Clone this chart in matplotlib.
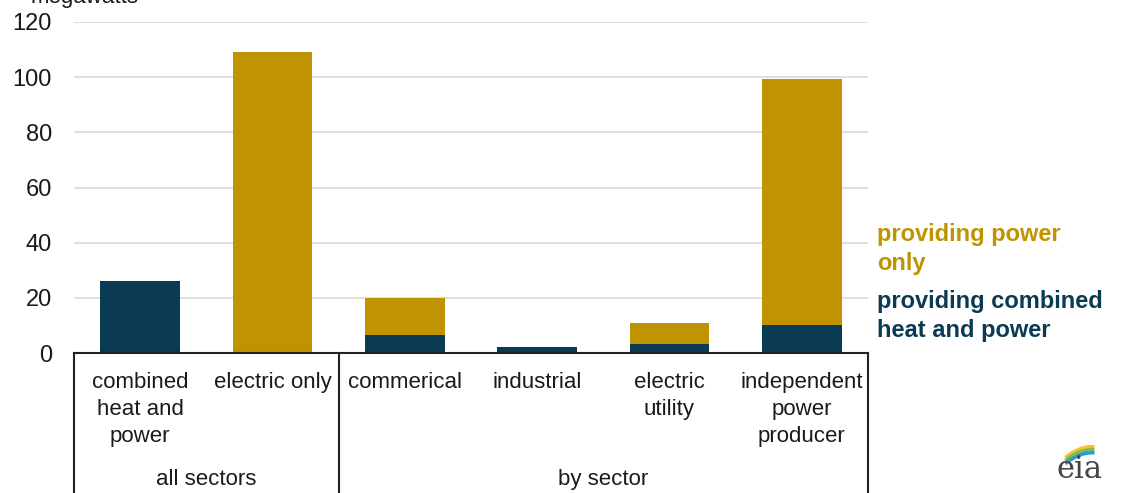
import numpy as np
import matplotlib
matplotlib.use('Agg')
import matplotlib.pyplot as plt

# data (megawatts)
categories = ['combined\nheat and\npower', 'electric only', 'commerical',
              'industrial', 'electric\nutility', 'independent\npower\nproducer']
chp_values = [26, 0, 6.5, 2, 3.3, 10.2]
power_only_values = [0, 109, 13.5, 0, 7.7, 89.1]
groups = ['all sectors', 'by sector']
group_spans = [(0, 1), (2, 5)]
yticks = [0, 20, 40, 60, 80, 100, 120]

NAVY = '#0B3A55'
GOLD = '#C09300'

plt.rcParams['font.family'] = ['Liberation Sans', 'DejaVu Sans']

fig = plt.figure(figsize=(11.29, 4.93), dpi=100)
ax = fig.add_axes([74 / 1129, 140 / 493, 794 / 1129, 331 / 493])

x = np.arange(len(categories))
ax.bar(x, chp_values, width=0.6, color=NAVY, zorder=3)
ax.bar(x, power_only_values, width=0.6, bottom=chp_values, color=GOLD, zorder=3)

ax.set_xlim(-0.5, len(categories) - 0.5)
ax.set_ylim(0, 120)
ax.set_yticks(yticks)
ax.set_yticklabels([str(v) for v in yticks], fontsize=17, color='#1a1a1a')
ax.tick_params(axis='y', length=0, pad=16)
ax.set_xticks([])
for v in yticks[1:]:
    ax.axhline(v, color='#D9D9D9', linewidth=1.2, zorder=1)
for s in ['top', 'right', 'left']:
    ax.spines[s].set_visible(False)
ax.spines['bottom'].set_color('#222222')
ax.spines['bottom'].set_linewidth(1.5)
ax.spines['bottom'].set_zorder(4)

# category labels under the bars
tr = ax.get_xaxis_transform()
for i, lab in enumerate(categories):
    ax.text(i, -0.058, lab, transform=tr, ha='center', va='top',
            fontsize=16, color='#1a1a1a', linespacing=1.38)

# bracket lines and group labels
for xb in [-0.5, 1.5, 5.5]:
    ax.plot([xb, xb], [0, -0.45], transform=tr, color='#222222',
            linewidth=1.5, clip_on=False)
for name, (a, b) in zip(groups, group_spans):
    ax.text((a + b) / 2, -0.382, name, transform=tr, ha='center', va='center',
            fontsize=16, color='#1a1a1a')

# unit label, cut by the top edge like the source
fig.text(0.027, 0.993, 'megawatts', fontsize=16, color='#1a1a1a', va='baseline')

# direct-label legend
fig.text(877 / 1129, 1 - 249 / 493, 'providing power\nonly', fontsize=17,
         fontweight='bold', color=GOLD, va='center', linespacing=1.32)
fig.text(877 / 1129, 1 - 316 / 493, 'providing combined\nheat and power',
         fontsize=17, fontweight='bold', color=NAVY, va='center', linespacing=1.32)

# simple eia mark
fig.text(1080 / 1129, 1 - 470 / 493, 'eia', fontsize=22, family='DejaVu Serif',
         color='#444444', ha='center', va='center')
lax = fig.add_axes([1062 / 1129, 1 - 465 / 493, 40 / 1129, 20 / 493])
t = np.linspace(0.15, 1.0, 40)
lax.plot(t, 1 - (t - 1) ** 2 * 0.9, color='#F2C230', linewidth=2.5)
lax.plot(t, 0.8 - (t - 1) ** 2 * 0.9, color='#7DBE4C', linewidth=2.5)
lax.plot(t, 0.6 - (t - 1) ** 2 * 0.9, color='#2B9AD2', linewidth=2.5)
lax.set_xlim(0, 1.3)
lax.set_ylim(-0.2, 1.1)
lax.axis('off')

fig.savefig('out.png', dpi=100)
